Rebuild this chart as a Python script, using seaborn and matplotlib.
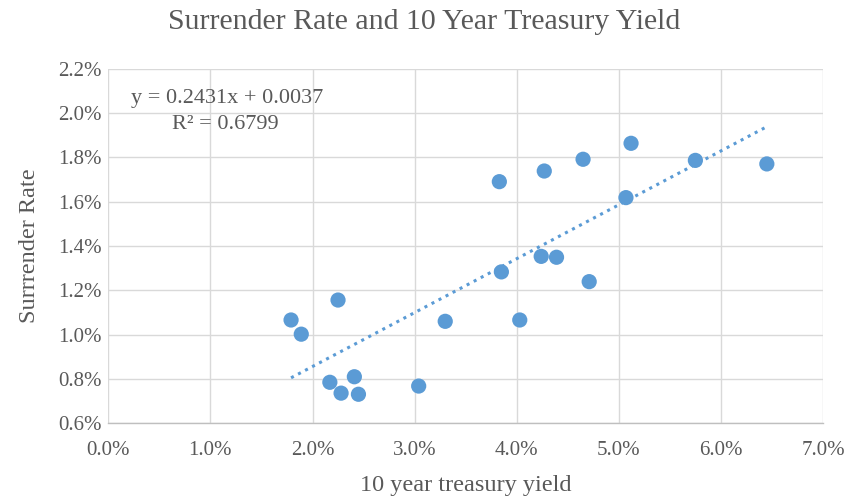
import matplotlib
matplotlib.use("Agg")
import matplotlib.pyplot as plt
import seaborn as sns
import pandas as pd
import numpy as np
from matplotlib.ticker import FuncFormatter, MultipleLocator

# Data (percent values)
treasury_yield = [1.79, 1.89, 2.25, 2.17, 2.28, 2.41, 2.45, 3.04, 3.30, 3.83, 3.85,
                  4.03, 4.27, 4.24, 4.39, 4.65, 4.71, 5.07, 5.12, 5.75, 6.45]
surrender_rate = [1.066, 1.002, 1.156, 0.785, 0.736, 0.810, 0.731, 0.768, 1.060, 1.690, 1.283,
                  1.066, 1.738, 1.353, 1.349, 1.791, 1.239, 1.618, 1.863, 1.786, 1.770]
slope = 0.2431
intercept = 0.0037
r_squared = 0.6799

title = "Surrender Rate and 10 Year Treasury Yield"
xlabel = "10 year treasury yield"
ylabel = "Surrrender Rate"

df = pd.DataFrame({"x": treasury_yield, "y": surrender_rate})

sns.set_theme(style="white")
plt.rcParams["font.family"] = ["Liberation Serif", "DejaVu Serif"]

gray = "#595959"
blue = "#5b9bd5"

fig = plt.figure(figsize=(8.49, 5.01), dpi=100)
ax = fig.add_axes([108.3 / 849, 1 - 423.3 / 501, (823 - 108.3) / 849, (423.3 - 68.6) / 501])

# trendline from equation (fractions)
xs = np.array([min(treasury_yield), max(treasury_yield)])
ys = (slope * xs / 100 + intercept) * 100
ax.plot(xs, ys, linestyle=(0, (1, 1.6)), color=blue, linewidth=2.2, zorder=2)

sns.scatterplot(data=df, x="x", y="y", ax=ax, s=120, color=blue, edgecolor="none", zorder=3)

ax.set_xlim(0, 7)
ax.set_ylim(0.6, 2.2)
ax.xaxis.set_major_locator(MultipleLocator(1))
ax.yaxis.set_major_locator(MultipleLocator(0.2))
ax.xaxis.set_major_formatter(FuncFormatter(lambda v, p: f"{v:.1f}%"))
ax.yaxis.set_major_formatter(FuncFormatter(lambda v, p: f"{v:.1f}%"))
ax.grid(True, color="#d9d9d9", linewidth=1)
ax.set_axisbelow(True)
for s in ["top", "right", "left"]:
    ax.spines[s].set_visible(False)
ax.spines["bottom"].set_color("#bfbfbf")
ax.spines["bottom"].set_linewidth(1)
ax.tick_params(axis="both", length=0, labelsize=15, labelcolor=gray)
ax.tick_params(axis="x", pad=13)
ax.tick_params(axis="y", pad=5)

ax.set_xlabel(xlabel, fontsize=17.5, color=gray)
ax.set_ylabel(ylabel, fontsize=17.5, color=gray)
ax.xaxis.set_label_coords(0.5, (423.3 - 475) / 354.7)
ax.yaxis.set_label_coords((40 - 108.3) / 714.7, 0.5)

fig.text(0.5, 1 - 22 / 501, title, ha="center", va="center", fontsize=21.5, color=gray)

ax.text(1.16, 2.067, f"y = {slope}x + {intercept}", ha="center", va="center", fontsize=16, color=gray)
ax.text(1.15, 1.95, f"R² = {r_squared}", ha="center", va="center", fontsize=16, color=gray)

fig.savefig("out.png", dpi=100)
